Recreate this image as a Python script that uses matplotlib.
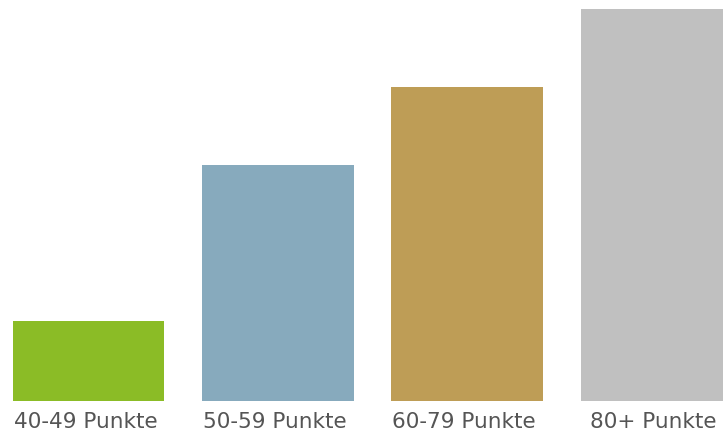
import matplotlib.pyplot as plt
import matplotlib.transforms as mtransforms

# Daten
kategorien = ["40-49 Punkte", "50-59 Punkte", "60-79 Punkte", "80+ Punkte"]
werte = [80, 236, 314, 392]
farben = ["#8bbc26", "#87aabd", "#be9d56", "#c0c0c0"]

fig = plt.figure(figsize=(7.23, 4.34), dpi=100)
ax = fig.add_axes([0, 33 / 434, 1, 401 / 434])

pos = range(len(kategorien))
ax.bar(pos, werte, width=0.8, color=farben)

ax.set_xlim(-0.4675, 3.352)
ax.set_ylim(0, 401)
ax.set_yticks([])
ax.set_xticks(list(pos))
ax.set_xticklabels(kategorien, fontsize=15.5, color="#555555", family="DejaVu Sans")
ax.tick_params(axis="x", length=0, pad=8)
# Beschriftungen leicht nach links schieben
verschiebung = mtransforms.ScaledTranslation(-3 / 100, 0, fig.dpi_scale_trans)
for lab in ax.get_xticklabels():
    lab.set_transform(lab.get_transform() + verschiebung)
for s in ax.spines.values():
    s.set_visible(False)

fig.savefig("out.png", dpi=100)
